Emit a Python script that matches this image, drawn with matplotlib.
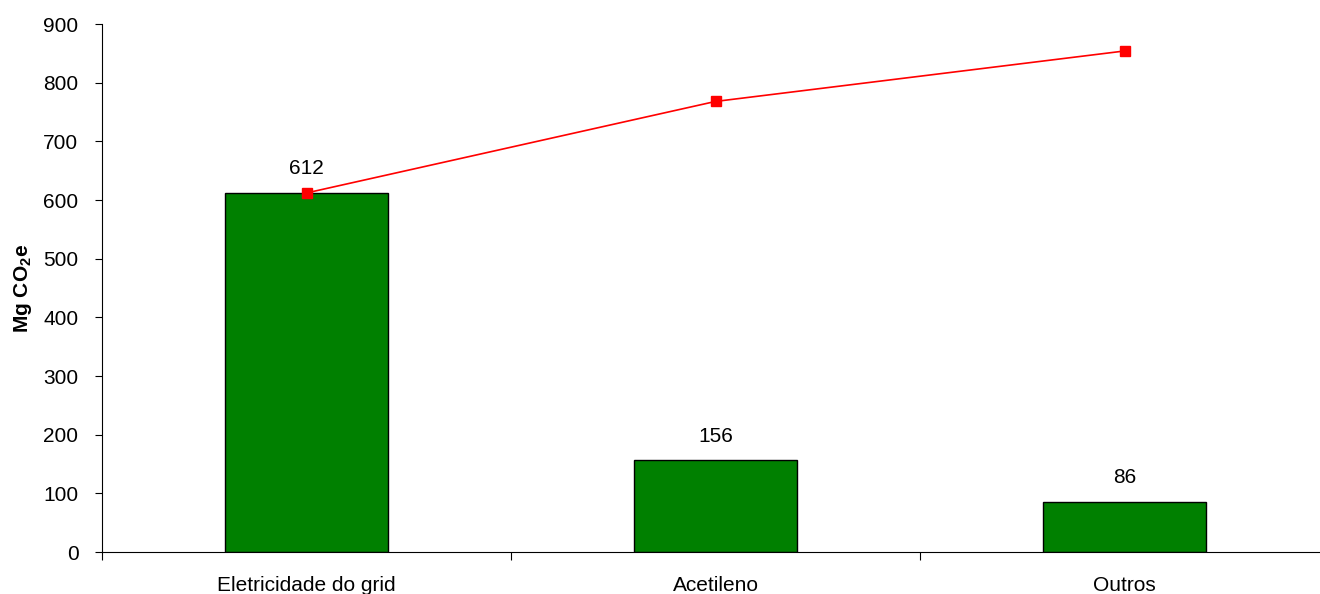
import matplotlib
matplotlib.use('Agg')
import matplotlib.pyplot as plt
import numpy as np

plt.rcParams['font.family'] = ['Liberation Sans', 'DejaVu Sans']
plt.rcParams['mathtext.fontset'] = 'custom'
plt.rcParams['mathtext.rm'] = 'Liberation Sans'
plt.rcParams['mathtext.bf'] = 'Liberation Sans:bold'

categories = ['Eletricidade do grid', 'Acetileno', 'Outros']
emissions = [612, 156, 86]
cumulative = np.cumsum(emissions)
yticks = [0, 100, 200, 300, 400, 500, 600, 700, 800, 900]

fig = plt.figure(figsize=(13.2, 5.94), dpi=100)
ax = fig.add_axes([102 / 1320, 42 / 594, 1227 / 1320, 528 / 594])

x = np.arange(len(categories))
ax.bar(x, emissions, width=0.4, color='#008000', edgecolor='black', linewidth=1)
ax.plot(x, cumulative, color='red', linewidth=1.2, marker='s', markersize=7)

for xi, v in zip(x, emissions):
    ax.text(xi, v + 25, str(v), ha='center', va='bottom', fontsize=15)

ax.set_xlim(-0.5, len(categories) - 0.5)
ax.set_ylim(0, 900)
ax.set_yticks(yticks)
ax.tick_params(axis='y', labelsize=15, length=5, direction='out', width=0.8, pad=12)

# category labels centred, tick marks between categories
ax.set_xticks(np.arange(len(categories) + 1) - 0.5)
ax.set_xticklabels([])
ax.set_xticks(x, minor=True)
ax.set_xticklabels(categories, minor=True, fontsize=15)
ax.tick_params(axis='x', which='major', length=6, direction='out', width=0.8)
ax.tick_params(axis='x', which='minor', length=0, pad=17)

ax.spines['top'].set_visible(False)
ax.spines['right'].set_visible(False)
ax.spines['left'].set_linewidth(0.8)
ax.spines['bottom'].set_linewidth(0.8)

ax.set_ylabel(r'Mg CO$_\mathbf{2}$e', fontsize=15, fontweight='bold')
ax.yaxis.set_label_coords(-68 / 1227, 0.5)

fig.savefig('out.png', dpi=100)
